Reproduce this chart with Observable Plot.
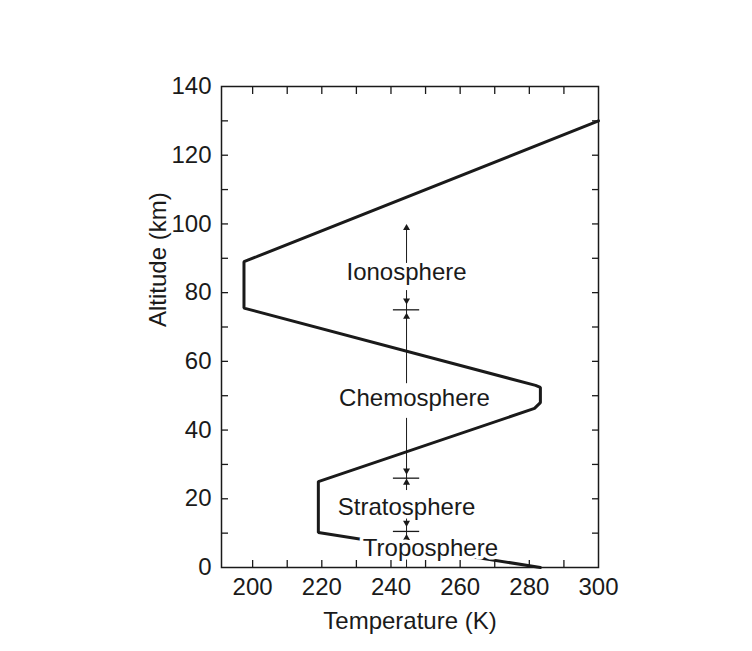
<!DOCTYPE html>
<html><head><meta charset="utf-8">
<script src="https://cdn.jsdelivr.net/npm/d3@7"></script>
<script src="https://cdn.jsdelivr.net/npm/@observablehq/plot@0.6"></script>
<style>
body{margin:0;background:#fff;}
</style>
</head><body><div id="chart"></div>
<script>
// Temperature profile (K) vs altitude (km)
const temperature = [283.2, 219, 219, 281.5, 283.2, 283.2, 281.8, 197.5, 197.5, 300];
const altitude    = [0, 10.2, 25, 46.3, 48, 52.4, 53, 75.5, 89, 130];

// Layer labels
const layerNames = ["Ionosphere", "Chemosphere", "Stratosphere", "Troposphere"];
const labelTemp  = [244.5, 246.8, 244.5, 251.4];
const labelAlt   = [85.9, 49.2, 17.5, 5.5];

// Boundary markers on the guide line
const guideTemp   = 244.5;
const boundaryAlt = [10.5, 26, 75];
const guideFrom   = [0, 8.4, 22.4, 53.5, 88.5];
const guideTo     = [2.9, 16, 43.4, 80.6, 98.5];
const arrowAlt    = [77.7, 73, 28.2, 24.7, 13, 8.6, 98.8];
const arrowDir    = ["down", "up", "down", "up", "down", "up", "up"];

// Ticks
const xLabels = [200, 220, 240, 260, 280, 300];
const xMinor  = [200, 210, 220, 230, 240, 250, 260, 270, 280, 290];
const yLabels = [0, 20, 40, 60, 80, 100, 120, 140];
const yMinor  = [10, 20, 30, 40, 50, 60, 70, 80, 90, 100, 110, 120, 130];

const profile = temperature.map((t, i) => ({t, a: altitude[i]}));
const labels = layerNames.map((n, i) => ({n, t: labelTemp[i], a: labelAlt[i]}));
const guide = guideFrom.map((f, i) => ({f, to: guideTo[i]}));
const arrows = arrowAlt.map((a, i) => ({a, r: arrowDir[i] === "down" ? 180 : 0}));
const bars = boundaryAlt.map(a => ({a}));

const ink = "#1a1a1a";
const blank = () => "";

const chart = Plot.plot({
  width: 752,
  height: 651,
  marginLeft: 221,
  marginRight: 154,
  marginTop: 86,
  marginBottom: 84,
  style: {fontFamily: "'Liberation Sans', Arial, Helvetica, sans-serif", fontSize: "24px", color: ink, background: "#fff"},
  x: {domain: [191, 300], label: null},
  y: {domain: [0, 140], label: null},
  marks: [
    // inward minor/major ticks on all four sides
    Plot.axisX(xMinor, {anchor: "bottom", tickSize: -7, tickFormat: blank, label: null, stroke: ink, strokeWidth: 1.3}),
    Plot.axisX(xMinor, {anchor: "top", tickSize: -7, tickFormat: blank, label: null, stroke: ink, strokeWidth: 1.3}),
    Plot.axisY(yMinor, {anchor: "left", tickSize: -7, tickFormat: blank, label: null, stroke: ink, strokeWidth: 1.3}),
    Plot.axisY(yMinor, {anchor: "right", tickSize: -7, tickFormat: blank, label: null, stroke: ink, strokeWidth: 1.3}),
    // tick labels
    Plot.axisX(xLabels, {anchor: "bottom", tickSize: 0, tickPadding: 10, label: null, fill: ink}),
    Plot.axisY(yLabels, {anchor: "left", tickSize: 0, tickPadding: 10, label: null, fill: ink}),
    // axis titles
    Plot.text(["Temperature (K)"], {frameAnchor: "bottom", dy: 61, fill: ink, fontSize: 24}),
    Plot.text(["Altitude (km)"], {frameAnchor: "left", dx: -63, rotate: -90, fill: ink, fontSize: 24}),
    // guide line through the layers
    Plot.ruleX(guide, {x: () => guideTemp, y1: "f", y2: "to", stroke: ink, strokeWidth: 1}),
    Plot.ruleY(bars, {y: "a", x1: () => guideTemp - 3.8, x2: () => guideTemp + 3.8, stroke: ink, strokeWidth: 1.3}),
    Plot.dot(arrows, {x: () => guideTemp, y: "a", symbol: "triangle", r: 2.6, fill: ink, rotate: "r"}),
    // temperature profile
    Plot.line(profile, {x: "t", y: "a", stroke: ink, strokeWidth: 3, curve: "linear", strokeLinejoin: "miter"}),
    // layer names (white halo hides the curve behind the text)
    Plot.text(labels, {x: "t", y: "a", text: "n", fill: ink, fontSize: 24, stroke: "white", strokeWidth: 7}),
    Plot.frame({stroke: ink, strokeWidth: 1.5})
  ]
});
document.getElementById("chart").appendChild(chart);
</script>
</body></html>
